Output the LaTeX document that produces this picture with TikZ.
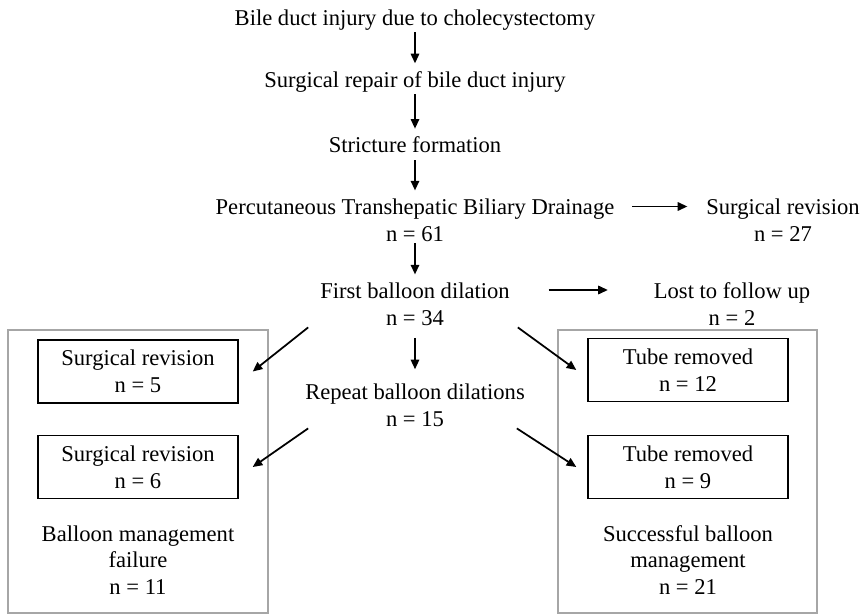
\documentclass[tikz,border=0pt]{standalone}
\usepackage{fontspec}
\setmainfont{Liberation Serif}
\usepackage{amsmath}
\usetikzlibrary{arrows.meta}

\begin{document}
\begin{tikzpicture}[
	txt/.style={align=center, inner sep=1pt, font=\fontsize{12.85}{15.2}\selectfont},
	outcome/.style={txt, draw, line width=0.8pt, minimum width=4cm, minimum height=1.26cm},
	arr/.style={line width=1pt, -{Triangle[length=5.5pt, width=4.8pt]}},
	link/.style={arr, shorten >=3.5pt},
	frame/.style={draw=gray!70, line width=0.9pt}]
	\useasboundingbox (0,0) rectangle (17.22,-12.3);
	\node[txt] (inj) at (8.3,-0.4) {Bile duct injury due to cholecystectomy};
	\node[txt] (rep) at (8.3,-1.64) {Surgical repair of bile duct injury};
	\node[txt] (str) at (8.3,-2.9) {Stricture formation};
	\node[txt] (ptbd) at (8.3,-4.4) {Percutaneous Transhepatic Biliary Drainage\\n = 61};
	\node[txt] (srev) at (15.66,-4.4) {Surgical revision\\n = 27};
	\node[txt] (fbd) at (8.3,-6.08) {First balloon dilation\\n = 34};
	\node[txt] (lost) at (14.64,-6.08) {Lost to follow up\\n = 2};
	\node[txt] (rbd) at (8.3,-8.1) {Repeat balloon dilations\\n = 15};
	\draw[frame] (0.16,-6.6) rectangle (5.36,-12.26);
	\draw[frame] (11.16,-6.6) rectangle (16.34,-12.26);
	\node[outcome] (sr5) at (2.76,-7.43) {Surgical revision\\n = 5};
	\node[outcome] (sr6) at (2.76,-9.34) {Surgical revision\\n = 6};
	\node[txt] (fail) at (2.76,-11.2) {Balloon management\\failure\\n = 11};
	\node[outcome] (tr12) at (13.76,-7.4) {Tube removed\\n = 12};
	\node[outcome] (tr9) at (13.76,-9.34) {Tube removed\\n = 9};
	\node[txt] (succ) at (13.76,-11.2) {Successful balloon\\management\\n = 21};
	\draw[link] (inj) -- (rep);
	\draw[link] (rep) -- (str);
	\draw[link, shorten <=3pt] (str) -- (ptbd);
	\draw[link] (ptbd) -- (fbd);
	\draw[link, shorten <=6pt, shorten >=7pt] (fbd) -- (rbd);
	\draw[arr, shorten <=9pt, shorten >=9.6pt] ([yshift=0.27cm]ptbd.east) -- ([yshift=0.27cm]srev.west);
	\draw[arr, shorten <=21pt, shorten >=25pt] ([yshift=0.28cm]fbd.east) -- ([yshift=0.28cm]lost.west);
	\draw[arr] ([xshift=-0.2cm]fbd.south west) -- ([xshift=0.28cm]sr5.east);
	\draw[arr] ([xshift=0.1cm]rbd.south west) -- ([xshift=0.28cm]sr6.east);
	\draw[arr] ([xshift=0.12cm]fbd.south east) -- ([xshift=-0.22cm]tr12.west);
	\draw[arr] ([xshift=-0.2cm]rbd.south east) -- ([xshift=-0.22cm]tr9.west);
\end{tikzpicture}
\end{document}
